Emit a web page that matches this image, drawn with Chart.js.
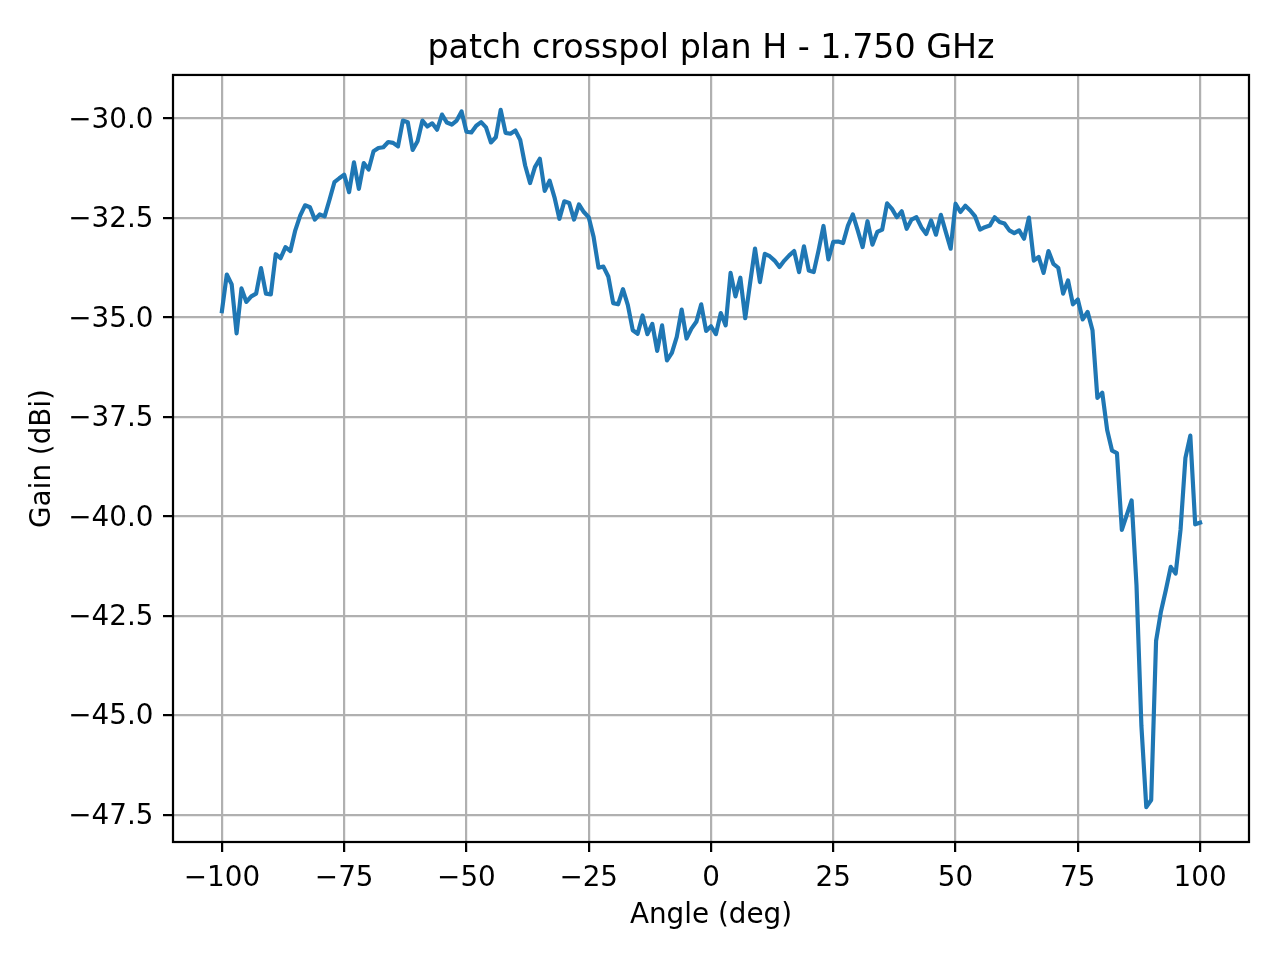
<!DOCTYPE html>
<html>
<head>
<meta charset="utf-8">
<title>patch crosspol plan H - 1.750 GHz</title>
<script src="https://cdn.jsdelivr.net/npm/chart.js@4.4.1/dist/chart.umd.min.js"></script>
<style>
  html, body { margin: 0; padding: 0; background: #fff; }
  canvas { display: block; }
</style>
</head>
<body>
<canvas id="chart" width="1280" height="960"></canvas>
<script>
// measured angles (deg)
const angles = [
  -100, -99, -98, -97, -96, -95, -94, -93, -92, -91,
  -90, -89, -88, -87, -86, -85, -84, -83, -82, -81,
  -80, -79, -78, -77, -76, -75, -74, -73, -72, -71,
  -70, -69, -68, -67, -66, -65, -64, -63, -62, -61,
  -60, -59, -58, -57, -56, -55, -54, -53, -52, -51,
  -50, -49, -48, -47, -46, -45, -44, -43, -42, -41,
  -40, -39, -38, -37, -36, -35, -34, -33, -32, -31,
  -30, -29, -28, -27, -26, -25, -24, -23, -22, -21,
  -20, -19, -18, -17, -16, -15, -14, -13, -12, -11,
  -10, -9, -8, -7, -6, -5, -4, -3, -2, -1,
  0, 1, 2, 3, 4, 5, 6, 7, 8, 9,
  10, 11, 12, 13, 14, 15, 16, 17, 18, 19,
  20, 21, 22, 23, 24, 25, 26, 27, 28, 29,
  30, 31, 32, 33, 34, 35, 36, 37, 38, 39,
  40, 41, 42, 43, 44, 45, 46, 47, 48, 49,
  50, 51, 52, 53, 54, 55, 56, 57, 58, 59,
  60, 61, 62, 63, 64, 65, 66, 67, 68, 69,
  70, 71, 72, 73, 74, 75, 76, 77, 78, 79,
  80, 81, 82, 83, 84, 85, 86, 87, 88, 89,
  90, 91, 92, 93, 94, 95, 96, 97, 98, 99,
  100
];

// gain (dBi)
const gain = [
  -34.84, -33.92, -34.17, -35.40, -34.27, -34.61, -34.47, -34.40, -33.76, -34.40,
  -34.42, -33.41, -33.51, -33.23, -33.33, -32.81, -32.44, -32.18, -32.23, -32.54,
  -32.41, -32.46, -32.04, -31.60, -31.50, -31.41, -31.85, -31.10, -31.77, -31.12,
  -31.28, -30.82, -30.74, -30.72, -30.59, -30.61, -30.70, -30.05, -30.09, -30.79,
  -30.57, -30.05, -30.20, -30.12, -30.28, -29.90, -30.10, -30.15, -30.05, -29.82,
  -30.33, -30.35, -30.18, -30.09, -30.22, -30.60, -30.47, -29.78, -30.36, -30.38,
  -30.30, -30.54, -31.18, -31.62, -31.22, -31.01, -31.82, -31.56, -31.98, -32.52,
  -32.08, -32.12, -32.54, -32.16, -32.35, -32.48, -32.98, -33.75, -33.72, -33.97,
  -34.64, -34.67, -34.29, -34.69, -35.32, -35.41, -34.95, -35.42, -35.16, -35.84,
  -35.20, -36.08, -35.89, -35.49, -34.80, -35.53, -35.28, -35.11, -34.67, -35.34,
  -35.22, -35.42, -34.89, -35.20, -33.88, -34.47, -34.00, -35.02, -34.13, -33.27,
  -34.11, -33.40, -33.46, -33.57, -33.73, -33.57, -33.44, -33.33, -33.86, -33.21,
  -33.82, -33.86, -33.31, -32.70, -33.54, -33.10, -33.09, -33.13, -32.69, -32.41,
  -32.81, -33.23, -32.58, -33.17, -32.85, -32.79, -32.13, -32.27, -32.48, -32.33,
  -32.77, -32.54, -32.48, -32.73, -32.90, -32.56, -32.92, -32.42, -32.85, -33.27,
  -32.14, -32.35, -32.19, -32.31, -32.46, -32.79, -32.73, -32.69, -32.48, -32.60,
  -32.64, -32.81, -32.88, -32.81, -33.02, -32.49, -33.57, -33.48, -33.88, -33.33,
  -33.65, -33.75, -34.40, -34.07, -34.67, -34.55, -35.05, -34.86, -35.32, -37.02,
  -36.89, -37.83, -38.35, -38.41, -40.34, -39.97, -39.60, -41.74, -45.27, -47.31,
  -47.13, -43.13, -42.39, -41.85, -41.27, -41.44, -40.34, -38.53, -37.97, -40.20,
  -40.16
];

const xTicks = [-100, -75, -50, -25, 0, 25, 50, 75, 100];
const yTicks = [-47.5, -45, -42.5, -40, -37.5, -35, -32.5, -30];

const MINUS = '\u2212';
function fmt(v, digits) {
  const s = Math.abs(v).toFixed(digits);
  return v < 0 ? MINUS + s : s;
}

const tickFont = { family: 'DejaVu Sans', size: 27.8 };
const lw = 2.22; // 0.8pt at 200 dpi

// axes frame on all four sides, like matplotlib spines
const frame = {
  id: 'frame',
  afterDatasetsDraw(chart) {
    const { ctx, chartArea: a } = chart;
    ctx.save();
    ctx.strokeStyle = '#000';
    ctx.lineWidth = lw;
    ctx.lineJoin = 'miter';
    ctx.strokeRect(a.left, a.top, a.right - a.left, a.bottom - a.top);
    ctx.restore();
  }
};

const ctx = document.getElementById('chart').getContext('2d');
new Chart(ctx, {
  type: 'line',
  data: {
    datasets: [{
      data: angles.map((a, i) => ({ x: a, y: gain[i] })),
      borderColor: '#1f77b4',
      borderWidth: 4.17,
      pointRadius: 0,
      tension: 0,
      fill: false,
      borderJoinStyle: 'round',
      borderCapStyle: 'square'
    }]
  },
  options: {
    responsive: false,
    devicePixelRatio: 1,
    animation: false,
    layout: { padding: { top: 0, right: 31, bottom: 0, left: 0 } },
    plugins: {
      legend: { display: false },
      tooltip: { enabled: false },
      title: {
        display: true,
        fullSize: false,
        text: 'patch crosspol plan H - 1.750 GHz',
        color: '#000',
        font: { family: 'DejaVu Sans', size: 33.3, weight: 'normal' },
        padding: { top: 29.5, bottom: 5.5 }
      }
    },
    scales: {
      x: {
        type: 'linear',
        position: 'bottom',
        min: -110,
        max: 110,
        afterBuildTicks: s => { s.ticks = xTicks.map(v => ({ value: v })); },
        afterFit: s => { s.height = 118; },
        border: { display: false },
        grid: {
          color: '#b0b0b0',
          lineWidth: lw,
          tickColor: '#000',
          tickWidth: lw,
          tickLength: 10
        },
        ticks: {
          color: '#000',
          font: tickFont,
          padding: 10,
          maxRotation: 0,
          autoSkip: false,
          callback: v => fmt(v, 0)
        },
        title: {
          display: true,
          text: 'Angle (deg)',
          color: '#000',
          font: tickFont,
          padding: { top: 0, bottom: 28 }
        }
      },
      y: {
        type: 'linear',
        position: 'left',
        min: -48.1865,
        max: -28.9035,
        afterBuildTicks: s => { s.ticks = yTicks.map(v => ({ value: v })); },
        afterFit: s => { s.width = 173; },
        border: { display: false },
        grid: {
          color: '#b0b0b0',
          lineWidth: lw,
          tickColor: '#000',
          tickWidth: lw,
          tickLength: 10
        },
        ticks: {
          color: '#000',
          font: tickFont,
          padding: 9.5,
          labelOffset: 2,
          autoSkip: false,
          callback: v => fmt(v, 1)
        },
        title: {
          display: true,
          text: 'Gain (dBi)',
          color: '#000',
          font: tickFont,
          padding: { top: 26, bottom: 0 }
        }
      }
    }
  },
  plugins: [frame]
});
</script>
</body>
</html>
